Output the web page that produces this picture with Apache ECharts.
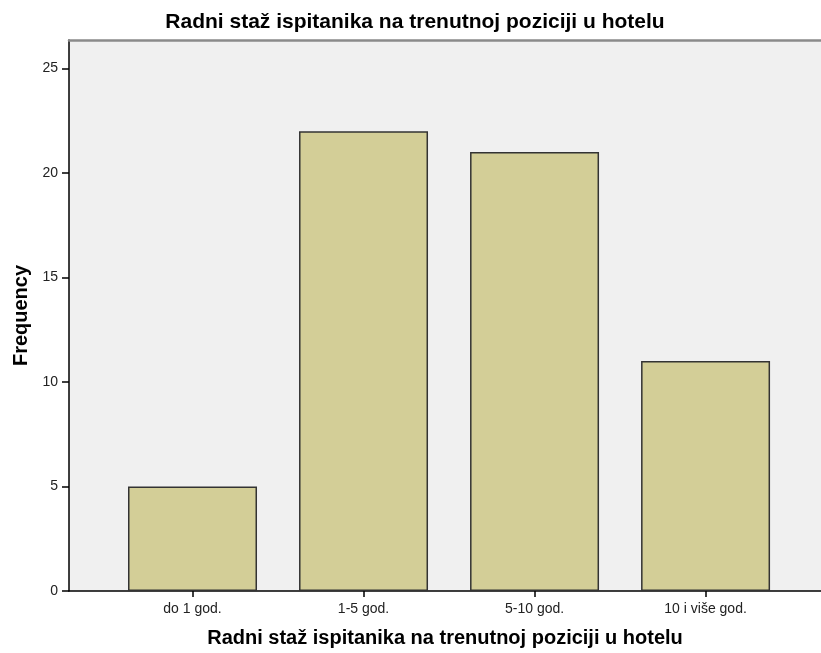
<!DOCTYPE html>
<html>
<head>
<meta charset="utf-8">
<script src="https://cdn.jsdelivr.net/npm/echarts@6/dist/echarts.min.js"></script>
<style>
html,body{margin:0;padding:0;background:#fff;}
#chart{width:821px;height:653px;}
</style>
</head>
<body>
<div id="chart"></div>
<script>
const categories = ['do 1 god.', '1-5 god.', '5-10 god.', '10 i više god.'];
const frequencies = [5, 22, 21, 11];
const yTicks = [0, 5, 10, 15, 20, 25];
const titleText = 'Radni staž ispitanika na trenutnoj poziciji u hotelu';
const xName = 'Radni staž ispitanika na trenutnoj poziciji u hotelu';
const yName = 'Frequency';

const chart = echarts.init(document.getElementById('chart'), null, {renderer: 'canvas'});
const font = 'Liberation Sans, Arial, sans-serif';
const positions = categories.map((c, i) => i);
const xMin = -0.7222, xMax = 3.675;

chart.setOption({
  animation: false,
  backgroundColor: '#ffffff',
  title: {
    text: titleText,
    left: 410,
    textAlign: 'center',
    top: 7,
    textStyle: {fontFamily: font, fontSize: 21, fontWeight: 'bold', color: '#000'}
  },
  grid: {
    left: 69, top: 40, right: 0, bottom: 62,
    outerBoundsMode: 'none',
    containLabel: false,
    show: true, backgroundColor: '#f0f0f0', borderWidth: 0
  },
  xAxis: [{
    type: 'value',
    min: xMin,
    max: xMax,
    splitLine: {show: false},
    axisLine: {show: true, onZero: false, lineStyle: {color: '#000', width: 1.5}},
    axisTick: {show: true, customValues: positions, length: 6, lineStyle: {color: '#000', width: 1.5}},
    axisLabel: {
      customValues: positions,
      margin: 11,
      fontFamily: font, fontSize: 14, color: '#222',
      formatter: v => categories[Math.round(v)]
    },
    name: xName,
    nameLocation: 'middle',
    nameGap: 37,
    nameTextStyle: {fontFamily: font, fontSize: 20, fontWeight: 'bold', color: '#000'}
  }, {
    type: 'value',
    position: 'top',
    min: xMin,
    max: xMax,
    splitLine: {show: false},
    axisLine: {show: true, onZero: false, lineStyle: {color: '#8a8a8a', width: 2.5}},
    axisTick: {show: false},
    axisLabel: {show: false}
  }],
  yAxis: {
    type: 'value',
    min: 0,
    max: 26.36,
    interval: 5,
    splitLine: {show: false},
    axisLine: {show: true, onZero: false, lineStyle: {color: '#000', width: 1.5}},
    axisTick: {show: true, customValues: yTicks, length: 7, lineStyle: {color: '#000', width: 1.5}},
    axisLabel: {
      margin: 11, fontFamily: font, fontSize: 14, color: '#222',
      customValues: yTicks
    },
    name: yName,
    nameLocation: 'middle',
    nameGap: 38,
    nameTextStyle: {fontFamily: font, fontSize: 20, fontWeight: 'bold', color: '#000'}
  },
  series: [{
    type: 'bar',
    barWidth: 129,
    data: frequencies.map((v, i) => [positions[i], v]),
    itemStyle: {color: '#d3ce97', borderColor: '#333', borderWidth: 1.5}
  }]
});
</script>
</body>
</html>
